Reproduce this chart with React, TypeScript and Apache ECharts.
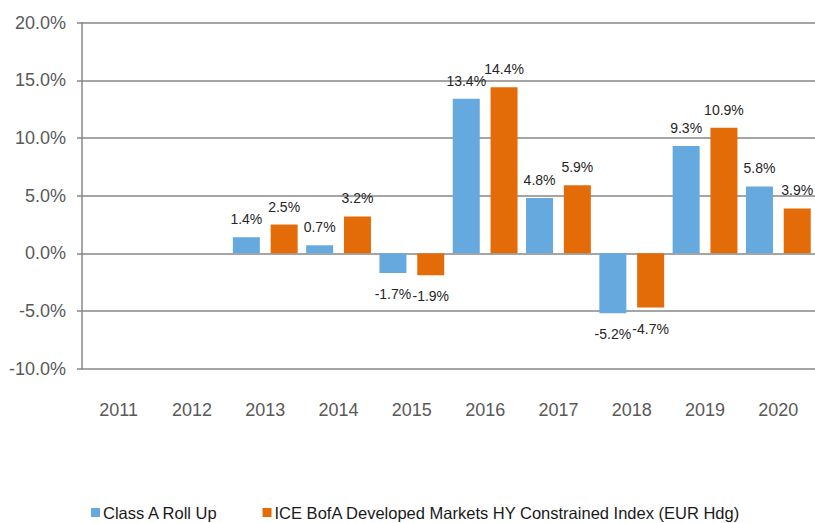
import React, { useEffect, useRef } from "react";
import * as echarts from "echarts";

const categories = ["2011", "2012", "2013", "2014", "2015", "2016", "2017", "2018", "2019", "2020"];
const classA: (number | null)[] = [null, null, 1.4, 0.7, -1.7, 13.4, 4.8, -5.2, 9.3, 5.8];
const iceIndex: (number | null)[] = [null, null, 2.5, 3.2, -1.9, 14.4, 5.9, -4.7, 10.9, 3.9];
const seriesNames = ["Class A Roll Up", "ICE BofA Developed Markets HY Constrained Index (EUR Hdg)"];
const colors = ["#65A9DE", "#E36C09"];

function toItems(arr: (number | null)[]) {
  return arr.map((v) =>
    v === null
      ? { value: null }
      : { value: v, label: v < 0 ? { position: "bottom", distance: 14 } : { position: "top", distance: 11 } }
  );
}

export default function App() {
  const ref = useRef<HTMLDivElement>(null);
  useEffect(() => {
    document.body.style.margin = "0";
    if (!ref.current) return;
    const chart = echarts.init(ref.current, undefined, { renderer: "svg" });
    const labelCfg = {
      show: true,
      fontSize: 14,
      color: "#262626",
      fontFamily: "Liberation Sans, Arial, sans-serif",
      formatter: (p: any) => (p.value === null || p.value === undefined ? "" : Number(p.value).toFixed(1) + "%"),
    };
    chart.setOption({
      animation: false,
      textStyle: { fontFamily: "Liberation Sans, Arial, sans-serif" },
      grid: { left: 82, right: 0, top: 22.7, bottom: 154.3, containLabel: false },
      legend: {
        bottom: -3,
        left: 86,
        itemWidth: 9,
        itemHeight: 9,
        itemGap: 44,
        icon: "rect",
        textStyle: { fontSize: 16.5, color: "#1a1a1a", padding: [0, 0, 0, -2] },
        data: seriesNames,
      },
      xAxis: {
        type: "category",
        data: categories,
        axisLine: { show: false, onZero: false },
        axisTick: { show: false },
        axisLabel: { fontSize: 18, color: "#595959", margin: 32 },
      },
      yAxis: {
        type: "value",
        min: -10,
        max: 20,
        interval: 5,
        axisLine: { show: true, lineStyle: { color: "#878787", width: 1.5 } },
        axisTick: { show: true, length: 5, lineStyle: { color: "#878787", width: 1.5 } },
        splitLine: { show: true, lineStyle: { color: "#878787", width: 1.5 } },
        axisLabel: {
          fontSize: 18,
          color: "#595959",
          margin: 16,
          formatter: (v: number) => v.toFixed(1) + "%",
        },
      },
      series: [
        {
          name: seriesNames[0],
          type: "bar",
          data: toItems(classA),
          barWidth: 27,
          barGap: "40%",
          itemStyle: { color: colors[0] },
          label: labelCfg,
        },
        {
          name: seriesNames[1],
          type: "bar",
          data: toItems(iceIndex),
          barWidth: 27,
          barGap: "40%",
          itemStyle: { color: colors[1] },
          label: labelCfg,
        },
      ],
    });
    return () => chart.dispose();
  }, []);
  return <div ref={ref} style={{ width: 815, height: 523 }} />;
}
